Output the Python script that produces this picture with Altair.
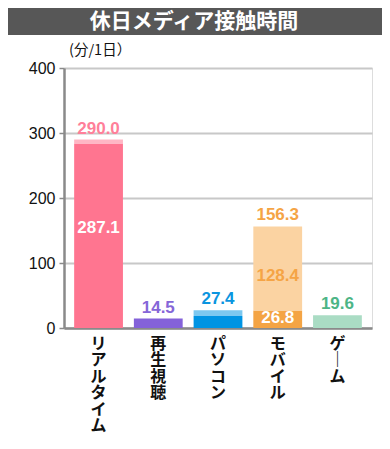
import altair as alt
import pandas as pd

categories = ["リアルタイム", "再生視聴", "パソコン", "モバイル", "ゲーム"]
base_values = [284.0, 14.5, 18.5, 26.8, 19.6]
total_values = [290.0, 14.5, 27.4, 156.3, 19.6]
total_labels = ["290.0", "14.5", "27.4", "156.3", "19.6"]
inner_realtime = "287.1"
inner_mobile_upper = "128.4"
inner_mobile_lower = "26.8"
y_ticks = [0, 100, 200, 300, 400]
title_text = "休日メディア接触時間"
unit_text = "(分/1日）"

base_colors = ["#ff7590", "#8462d9", "#0094e3", "#f4a444", "#aadcc4"]
top_colors = ["#ffb6c4", "#8462d9", "#7cc8f0", "#fbd3a2", "#aadcc4"]
label_colors = ["#ff7f99", "#8566d8", "#0a95e0", "#f5a445", "#4db586"]

seg_rows, seg_domain, seg_range = [], [], []
for c, b, t, bc, tc in zip(categories, base_values, total_values, base_colors, top_colors):
    seg_rows.append({"cat": c, "seg": c + "|base", "start": 0.0, "end": b})
    seg_domain.append(c + "|base"); seg_range.append(bc)
    if t > b:
        seg_rows.append({"cat": c, "seg": c + "|top", "start": b, "end": t})
        seg_domain.append(c + "|top"); seg_range.append(tc)
seg_df = pd.DataFrame(seg_rows)

top_df = pd.DataFrame({"cat": categories, "value": total_values, "text": total_labels})

inner_df = pd.DataFrame([
    {"cat": categories[0], "text": inner_realtime, "start": 0.0, "end": base_values[0], "kind": "a"},
    {"cat": categories[3], "text": inner_mobile_upper, "start": base_values[3], "end": total_values[3], "kind": "b"},
    {"cat": categories[3], "text": inner_mobile_lower, "start": 0.0, "end": base_values[3], "kind": "c"},
])

one = pd.DataFrame({"k": [0]})

W, H = 308, 260
xscale = alt.Scale(domain=categories, paddingInner=0.183, paddingOuter=0.17)
yscale = alt.Scale(domain=[0, 400], nice=False)

x_enc = alt.X("cat:N", sort=categories, scale=xscale, title=None,
              axis=alt.Axis(labelExpr="split(replace(datum.label, 'ー', '｜'), '')",
                            labelAngle=0, labelBaseline="top", labelAlign="center",
                            labelPadding=7, labelLineHeight=16.5, labelFontSize=16,
                            labelFont="Noto Sans CJK JP", labelFontWeight="bold",
                            labelColor="#111111", ticks=False, domainColor="#8a8a8a",
                            domainWidth=2.5, grid=False))

bars = alt.Chart(seg_df).mark_bar().encode(
    x=x_enc,
    y=alt.Y("start:Q", scale=yscale, title=None,
            axis=alt.Axis(values=y_ticks, labelFontSize=16, labelFont="Liberation Sans",
                          labelColor="#111111", labelPadding=4, tickSize=5,
                          tickColor="#8a8a8a", tickWidth=1.5, domainColor="#8a8a8a",
                          domainWidth=2.5, gridColor="#c8c8c8", gridWidth=2)),
    y2="end:Q",
    color=alt.Color("seg:N", scale=alt.Scale(domain=seg_domain, range=seg_range), legend=None),
)

top_text = alt.Chart(top_df).mark_text(
    baseline="alphabetic", dy=-6, fontSize=17, fontWeight="bold", font="Liberation Sans"
).encode(
    x=alt.X("cat:N", sort=categories, scale=xscale, title=None),
    y=alt.Y("value:Q", scale=yscale, title=None),
    text="text:N",
    color=alt.Color("cat:N", scale=alt.Scale(domain=categories, range=label_colors), legend=None),
)

def inner_layer(kind, color, dy):
    return alt.Chart(inner_df).transform_filter(
        alt.datum.kind == kind
    ).transform_calculate(mid="(datum.start + datum.end) / 2").mark_text(
        baseline="middle", dy=dy, fontSize=17, fontWeight="bold", font="Liberation Sans", color=color
    ).encode(
        x=alt.X("cat:N", sort=categories, scale=xscale, title=None),
        y=alt.Y("mid:Q", scale=yscale, title=None),
        text="text:N",
    )

inner_a = inner_layer("a", "#ffffff", -8)
inner_b = inner_layer("b", "#f5a445", 8)
inner_c = inner_layer("c", "#ffffff", -1)

title_rect = alt.Chart(one).mark_rect(color="#575757").encode(
    x=alt.value(-56), x2=alt.value(W + 10), y=alt.value(-60), y2=alt.value(-33)
)
title_lbl = alt.Chart(one).mark_text(
    text=title_text, color="#ffffff", fontSize=21, fontWeight="bold",
    font="Noto Sans CJK JP", align="center", baseline="middle"
).encode(x=alt.value(130), y=alt.value(-46))

unit_lbl = alt.Chart(one).mark_text(
    text=unit_text, color="#111111", fontSize=14.5, font="Noto Sans CJK JP",
    align="left", baseline="middle"
).encode(x=alt.value(5), y=alt.value(-17))

chart = alt.layer(
    bars, top_text, inner_a, inner_b, inner_c, title_rect, title_lbl, unit_lbl
).resolve_scale(color="independent").properties(
    width=W, height=H,
    padding={"left": 56, "top": 60, "right": 10, "bottom": 113},
    autosize=alt.AutoSizeParams(type="none"),
).configure_view(strokeWidth=0).configure(background="#ffffff")

chart.save("out.html", embed_options={"renderer": "svg", "actions": False})
